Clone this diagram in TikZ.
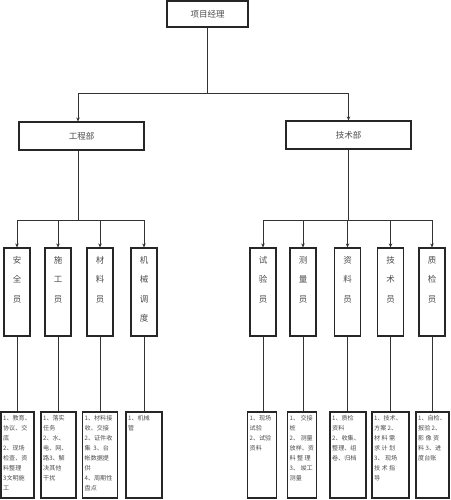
\documentclass[tikz,border=0pt]{standalone}
\usepackage{fontspec}
\newfontfamily\cjk{Noto Sans CJK SC}
\usetikzlibrary{arrows.meta,calc}
\begin{document}
\begin{tikzpicture}[x=1pt,y=-1pt,
  line/.style={draw=black!80, line width=0.8pt},
  arr/.style={line, -{Stealth[length=4pt,width=3.5pt]}},
  box/.style={draw=black!85, line width=1.1pt, rectangle, inner sep=0pt},
  txt/.style={text=black!70, font=\cjk\fontsize{8.5}{10}\selectfont},
  vtxt/.style={text=black!70, font=\cjk\fontsize{8.5}{19.5}\selectfont, align=center, anchor=north, inner sep=0pt},
  small/.style={text=black!70, font=\cjk\fontsize{6.1}{10}\selectfont, align=left, anchor=north west, inner sep=0pt}]
\useasboundingbox (0,0) rectangle (450,500);
% top level
\node[box, minimum width=81pt, minimum height=26pt, txt] (pm) at (207.5,14) {项目经理};
\node[box, minimum width=125pt, minimum height=28pt, txt] (gc) at (81.5,136) {工程部};
\node[box, minimum width=125pt, minimum height=28pt, txt] (js) at (348.5,135) {技术部};
\coordinate (t) at (207.5,93);
\draw[line] (pm.south) -- (t);
\draw[arr] (t) -| ([xshift=-3.5pt]gc.north);
\draw[arr] (t) -| (js.north);
% second level boxes
\foreach \n/\x in {L1/17,L2/58,L3/100,L4/144,R1/263,R2/303,R3/347.5,R4/390.5,R5/432}
  \node[box, minimum width=26pt, minimum height=88pt] (\n) at (\x,292) {};
\node[vtxt] at (17,256) {安\\全\\员};
\node[vtxt] at (58,256) {施\\工\\员};
\node[vtxt] at (100,256) {材\\料\\员};
\node[vtxt] at (144,256) {机\\械\\调\\度};
\node[vtxt] at (263,256) {试\\验\\员};
\node[vtxt] at (303,256) {测\\量\\员};
\node[vtxt] at (347.5,256) {资\\料\\员};
\node[vtxt] at (390.5,256) {技\\术\\员};
\node[vtxt] at (432,256) {质\\检\\员};
% branches
\coordinate (lb) at (78,220);
\coordinate (rb) at (348.5,220);
\draw[line] ([xshift=-3.5pt]gc.south) -- (lb);
\draw[line] (js.south) -- (rb);
\foreach \n in {L1,L2,L3,L4} \draw[arr] (lb) -| (\n.north);
\foreach \n in {R1,R2,R3,R4,R5} \draw[arr] (rb) -| (\n.north);
% third level boxes
\foreach \n/\x/\w in {B1/17.5/33,B2/58.5/35,B3/100/35,B4/144/36,B5/262/29,B6/302/29,B7/348/36,B8/390.5/37,B9/432.5/33}
  \node[box, minimum width=\w pt, minimum height=86pt] (\n) at (\x,455) {};
\foreach \u/\b in {L1/B1,L2/B2,L3/B3,L4/B4,R1/B5,R2/B6,R3/B7,R4/B8,R5/B9}
  \draw[line] (\u.south) -- (\u.south |- \b.north);
% texts
\node[small] at ([xshift=2.5pt,yshift=-3.5pt]B1.north west) {1、教育、\\协议、交\\底\\2、现场\\检查、资\\料整理\\3文明施\\工};
\node[small] at ([xshift=2.5pt,yshift=-3.5pt]B2.north west) {1、落实\\任务\\2、水、\\电、网、\\路3、解\\决其他\\干扰};
\node[small] at ([xshift=2.5pt,yshift=-3.5pt]B3.north west) {1、材料接\\收、交接\\2、证件收\\集 \ 3、台\\帐数据提\\供\\4、周期性\\盘点};
\node[small] at ([xshift=2.5pt,yshift=-3.5pt]B4.north west) {1、机械\\管};
\node[small] at ([xshift=2.5pt,yshift=-3.5pt]B5.north west) {1、现场\\试验\\2、试验\\资料};
\node[small] at ([xshift=2.5pt,yshift=-3.5pt]B6.north west) {1、 交接\\桩\\2、 测量\\放样、资\\料 整 理\\3、 竣工\\测量};
\node[small] at ([xshift=2.5pt,yshift=-3.5pt]B7.north west) {1、质检\\资料\\2、收集、\\整理、组\\卷、归档};
\node[small] at ([xshift=2.5pt,yshift=-3.5pt]B8.north west) {1、技术、\\方案 2、\\材 料 需\\求 计 划\\3、 现场\\技 术 指\\导};
\node[small] at ([xshift=2.5pt,yshift=-3.5pt]B9.north west) {1、自检、\\报验 2、\\影 像 资\\料 3、进\\度台账};
\end{tikzpicture}
\end{document}
